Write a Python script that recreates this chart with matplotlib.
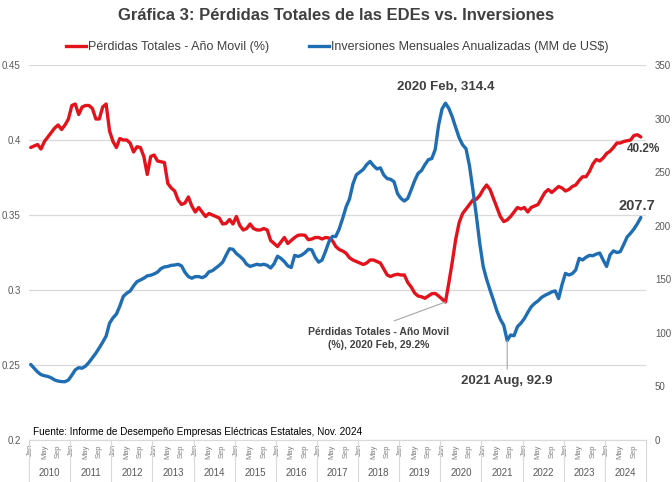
import numpy as np
import pandas as pd
import matplotlib.pyplot as plt
import matplotlib.transforms as mtransforms

# monthly, Jan 2010 .. Nov 2024
months = pd.date_range('2010-01-01', '2024-11-01', freq='MS')
years = list(range(2010, 2025))
month_ticks = ['Jan', 'May', 'Sep']

perdidas = [
    .395, .396, .397, .394, .399, .402, .405, .408, .410, .407, .410, .414,  # 2010
    .423, .424, .417, .422, .423, .423, .421, .414, .414, .422, .424, .406,  # 2011
    .399, .395, .401, .400, .400, .398, .392, .3955, .395, .389, .377, .389,  # 2012
    .390, .386, .3855, .385, .371, .368, .366, .360, .357, .358, .362, .356,  # 2013
    .352, .355, .352, .349, .351, .350, .349, .348, .344, .3444, .347, .344,  # 2014
    .349, .343, .340, .341, .344, .341, .340, .340, .341, .340, .333, .331,  # 2015
    .329, .332, .335, .331, .333, .335, .3365, .3367, .3365, .3335, .334, .335,  # 2016
    .335, .334, .335, .3347, .333, .329, .327, .326, .3245, .3215, .320, .319,  # 2017
    .318, .317, .318, .320, .320, .319, .318, .314, .310, .309, .310, .3105,  # 2018
    .310, .310, .305, .302, .298, .296, .2955, .2945, .296, .2975, .2977, .296,  # 2019
    .294, .292, .305, .319, .334, .345, .351, .354, .357, .360, .3605, .363,  # 2020
    .367, .370, .367, .361, .355, .349, .3456, .3467, .349, .352, .355, .354,  # 2021
    .355, .352, .355, .356, .357, .361, .365, .367, .365, .367, .369, .368,  # 2022
    .366, .367, .369, .370, .373, .3755, .3755, .379, .384, .387, .386, .388,  # 2023
    .391, .3925, .395, .398, .398, .399, .3995, .400, .403, .4035, .402,  # 2024
]

inversiones = [
    70.5, 67, 63.5, 61, 60, 59.3, 58, 56, 55, 54.5, 54.4, 56,  # 2010
    60.5, 65.5, 67.5, 67, 69, 72.5, 76.8, 81, 86, 91.3, 97, 109,  # 2011
    114, 117.5, 125, 134, 137, 139, 143.8, 147.8, 149.3, 151, 153.2, 153.8,  # 2012
    155, 156.7, 160, 161.5, 162, 163, 163.3, 164, 162.5, 156.5, 152.5, 151,  # 2013
    152.5, 152.5, 151.5, 153, 157, 158, 160.5, 163, 166, 172.5, 178.5, 178,  # 2014
    174, 171.5, 168.5, 164, 162, 163, 164, 163.3, 164, 163, 160.5, 164.5,  # 2015
    171.5, 169.5, 166.5, 162.5, 161, 172.3, 171.3, 172.5, 174.8, 178, 177.5, 170.5,  # 2016
    166, 168, 176, 185, 190, 190, 197, 206.8, 217.5, 225, 239, 247.5,  # 2017
    250, 252.5, 257, 260, 256, 253, 254, 247.3, 244, 243.3, 241, 230,  # 2018
    225.5, 223, 225.5, 233.5, 242, 248.8, 251.5, 257, 261.6, 262.7, 271, 294,  # 2019
    309, 314.4, 309.4, 301.4, 291.5, 282, 275.5, 271.8, 256, 233.5, 209.5, 183.5,  # 2020
    162, 150, 140, 130.5, 120.5, 112.7, 107, 92.9, 98, 97.3, 105.8, 109,  # 2021
    113.3, 119, 124.3, 127.5, 129.8, 133, 135, 136.5, 138.2, 139.2, 132, 145,  # 2022
    155.5, 154, 155.3, 158.7, 169.5, 168, 170.6, 172.3, 172, 173.5, 174.5, 168,  # 2023
    162, 172.7, 176.5, 175, 175.8, 182.5, 189.5, 193, 197, 202, 207.7,  # 2024
]

mes_es = {1: 'Jan', 2: 'Feb', 3: 'Mar', 4: 'Apr', 5: 'May', 6: 'Jun', 7: 'Jul',
          8: 'Aug', 9: 'Sep', 10: 'Oct', 11: 'Nov', 12: 'Dec'}

plt.rcParams['font.family'] = ['Liberation Sans', 'DejaVu Sans']

red = '#e3121b'
blue = '#1f6db2'
dark = '#404040'

fig = plt.figure(figsize=(6.72, 4.82), dpi=100)
ax = fig.add_axes([29 / 672, 42 / 482, 617 / 672, 375 / 482])
ax2 = ax.twinx()

x = np.arange(len(months)) + 0.5
perd = np.array(perdidas)
inv = np.array(inversiones)

ax.plot(x, perd, color=red, lw=2.4, solid_capstyle='round', zorder=3)
ax2.plot(x, inv, color=blue, lw=2.4, solid_capstyle='round', zorder=3)

n_slots = len(years) * 12
ax.set_xlim(0, n_slots)
ax.set_ylim(0.2, 0.45)
ax.set_yticks([0.2, 0.25, 0.3, 0.35, 0.4, 0.45])
ax.set_yticklabels(['0.2', '0.25', '0.3', '0.35', '0.4', '0.45'])
ax2.set_ylim(0, 350)
ax2.set_yticks(range(0, 351, 50))

for a in (ax, ax2):
    for s in a.spines.values():
        s.set_visible(False)
ax.spines['bottom'].set_visible(True)
ax.spines['bottom'].set_color('#d9d9d9')
ax.grid(axis='y', color='#d9d9d9', lw=0.9)
ax.set_axisbelow(True)
ax.tick_params(axis='y', length=0, pad=6, labelsize=7, labelcolor='#595959')
ax2.tick_params(axis='y', length=0, pad=6.5, labelsize=7, labelcolor='#595959')

# month ticks and year groups
tick_pos, tick_lab = [], []
for k, yr in enumerate(years):
    for m, lab in zip([0, 4, 8], month_ticks):
        tick_pos.append(k * 12 + m + 0.5)
        tick_lab.append(lab)
ax.set_xticks(tick_pos)
ax.set_xticklabels(tick_lab, rotation=90, fontsize=5.5, color='#7f7f7f')
ax.tick_params(axis='x', length=0, pad=3)

trans = mtransforms.blended_transform_factory(ax.transData, ax.transAxes)
for k, yr in enumerate(years):
    ax.text(k * 12 + 6, -0.088, str(yr), transform=trans, ha='center', va='center',
            fontsize=7, color='#595959')
for k in range(len(years) + 1):
    ax.plot([k * 12, k * 12], [0, -0.115], transform=trans, color='#d9d9d9',
            lw=0.8, clip_on=False)

# title and legend
fig.text(0.5, 1 - 15 / 482, 'Gráfica 3: Pérdidas Totales de las EDEs vs. Inversiones',
         ha='center', va='center', fontsize=12, fontweight='bold', color=dark)
h1, = ax.plot([], [], color=red, lw=2.4)
h2, = ax.plot([], [], color=blue, lw=2.4)
fig.legend([h1, h2], ['Pérdidas Totales - Año Movil (%)',
                      'Inversiones Mensuales Anualizadas (MM de US$)'],
           loc='center', bbox_to_anchor=(0.502, 1 - 47 / 482), ncol=2, frameon=False,
           fontsize=9, handlelength=1.6, handletextpad=0.15, columnspacing=3.2,
           labelcolor=dark)

# annotations
i_max = int(np.argmax(inv))
d = months[i_max]
ax2.annotate(f'{d.year} {mes_es[d.month]}, {inv[i_max]:.1f}', xy=(x[i_max], inv[i_max]),
             xytext=(0, 11.5), textcoords='offset points', ha='center', va='center',
             fontsize=9.5, fontweight='bold', color=dark)

# trough after the 2020 peak
i_min = i_max + int(np.argmin(inv[i_max:]))
d = months[i_min]
ax2.annotate(f'{d.year} {mes_es[d.month]}, {inv[i_min]:.1f}', xy=(x[i_min], inv[i_min]),
             xytext=(0, -29), textcoords='offset points', ha='center', va='center',
             fontsize=9.5, fontweight='bold', color=dark,
             arrowprops=dict(arrowstyle='-', color='#a6a6a6', lw=0.8,
                             shrinkA=2, shrinkB=0, relpos=(0.5, 1)))

j_min = int(np.argmin(perd))
d = months[j_min]
ax.annotate(f'Pérdidas Totales - Año Movil\n(%), {d.year} {mes_es[d.month]}, {perd[j_min] * 100:.1f}%',
            xy=(x[j_min], perd[j_min]), xytext=(-48, -26), textcoords='offset points',
            ha='center', va='center', fontsize=7.5, fontweight='bold', color=dark,
            linespacing=1.4,
            arrowprops=dict(arrowstyle='-', color='#a6a6a6', lw=0.8,
                            shrinkA=6, shrinkB=0, relpos=(0.5, 1)))

ax2.annotate(f'{inv[-1]:.1f}', xy=(x[-1], inv[-1]), xytext=(-3, 8), textcoords='offset points',
             ha='center', va='center', fontsize=10.5, fontweight='bold', color=dark)
ax.annotate(f'{perd[-1] * 100:.1f}%', xy=(x[-1], perd[-1]), xytext=(2, -9),
            textcoords='offset points', ha='center', va='center', fontsize=8.5,
            fontweight='bold', color=dark)

ax.text(4 / 617, 0.022,
        'Fuente: Informe de Desempeño Empresas Eléctricas Estatales, Nov. 2024',
        transform=ax.transAxes, ha='left', va='center', fontsize=7.2, color='black')

fig.savefig('out.png', dpi=100)
